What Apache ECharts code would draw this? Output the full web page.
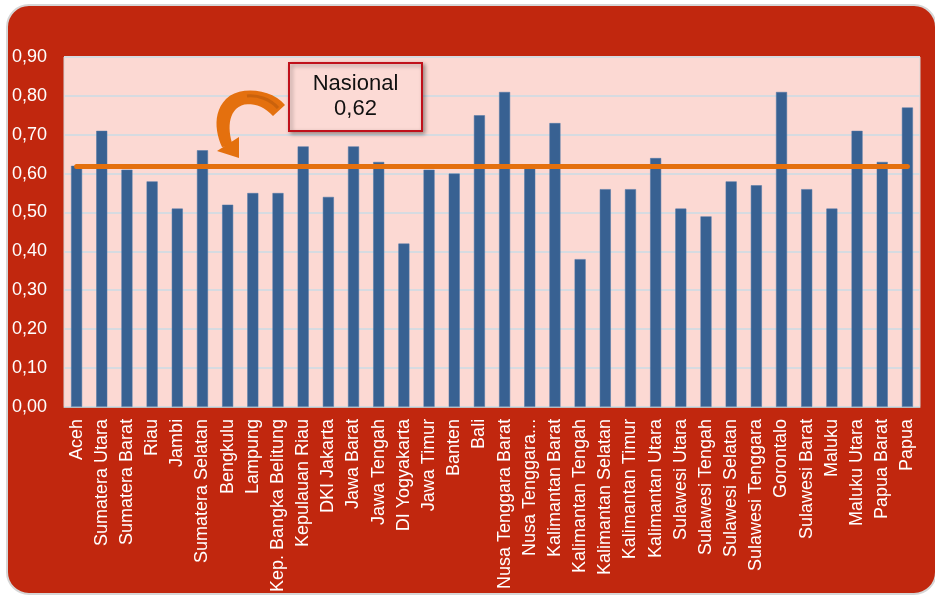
<!DOCTYPE html>
<html>
<head>
    <meta charset="utf-8">
    <title>Indeks per provinsi</title>
    <script src="https://cdn.jsdelivr.net/npm/echarts@6/dist/echarts.min.js"></script>
    <style>
        html, body { margin: 0; padding: 0; background: #ffffff; }
        #main { width: 935px; height: 595px; }
    </style>
</head>
<body>
<div id="main"></div>
<script>
    const provinsi = ['Aceh', 'Sumatera Utara', 'Sumatera Barat', 'Riau', 'Jambi', 'Sumatera Selatan',
        'Bengkulu', 'Lampung', 'Kep. Bangka Belitung', 'Kepulauan Riau', 'DKI Jakarta', 'Jawa Barat',
        'Jawa Tengah', 'DI Yogyakarta', 'Jawa Timur', 'Banten', 'Bali', 'Nusa Tenggara Barat',
        'Nusa Tenggara Timur', 'Kalimantan Barat', 'Kalimantan Tengah', 'Kalimantan Selatan',
        'Kalimantan Timur', 'Kalimantan Utara', 'Sulawesi Utara', 'Sulawesi Tengah', 'Sulawesi Selatan',
        'Sulawesi Tenggara', 'Gorontalo', 'Sulawesi Barat', 'Maluku', 'Maluku Utara', 'Papua Barat', 'Papua'];
    const nilai = [0.62, 0.71, 0.61, 0.58, 0.51, 0.66,
        0.52, 0.55, 0.55, 0.67, 0.54, 0.67,
        0.63, 0.42, 0.61, 0.60, 0.75, 0.81,
        0.62, 0.73, 0.38, 0.56,
        0.56, 0.64, 0.51, 0.49, 0.58,
        0.57, 0.81, 0.56, 0.51, 0.71, 0.63, 0.77];
    const nasional = 0.62;
    const yTicks = {min: 0, max: 0.9, step: 0.1};

    // titik-titik kurva bezier untuk bentuk panah
    function bez(p0, p1, p2, p3, n) {
        let pts = [];
        for (let i = 0; i <= n; i++) {
            let t = i / n, u = 1 - t;
            pts.push([
                u * u * u * p0[0] + 3 * u * u * t * p1[0] + 3 * u * t * t * p2[0] + t * t * t * p3[0],
                u * u * u * p0[1] + 3 * u * u * t * p1[1] + 3 * u * t * t * p2[1] + t * t * t * p3[1]
            ]);
        }
        return pts;
    }
    let arrowPts = [].concat(
        bez([285, 105], [272, 89], [240, 85], [226, 99], 12),
        bez([226, 99], [213, 112], [215, 132], [222, 147], 12),
        bez([233, 146], [228, 132], [228, 117], [236, 109], 12),
        bez([236, 109], [246, 100], [262, 104], [273, 116], 12)
    );

    var myChart = echarts.init(document.getElementById('main'));
    myChart.setOption({
        backgroundColor: '#ffffff',
        animation: false,
        textStyle: {fontFamily: 'Liberation Sans, Arial, sans-serif'},
        graphic: [
            {
                type: 'rect', z: -10, silent: true,
                shape: {x: 7, y: 5, width: 929, height: 589, r: 22},
                style: {fill: '#C1270E', stroke: '#d6d6d6', lineWidth: 2}
            },
            // panah melengkung
            {
                type: 'polygon', z: 100, silent: true,
                shape: {points: arrowPts},
                style: {fill: '#E4700E'}
            },
            {
                type: 'polygon', z: 100, silent: true,
                shape: {points: [[217, 151], [239, 158], [239, 137]]},
                style: {fill: '#E4700E'}
            },
            {
                type: 'bezierCurve', z: 101, silent: true,
                shape: {x1: 278, y1: 108, cpx1: 270, cpy1: 99, cpx2: 258, cpy2: 95, x2: 247, y2: 96},
                style: {stroke: '#B9580B', lineWidth: 3, fill: null, opacity: 0.6}
            },
            // kotak keterangan
            {
                type: 'rect', z: 100, silent: true,
                shape: {x: 289, y: 63, width: 133, height: 68},
                style: {
                    fill: '#FCDAD5', stroke: '#C0101A', lineWidth: 2,
                    shadowBlur: 4, shadowOffsetX: 2, shadowOffsetY: 2, shadowColor: 'rgba(0,0,0,0.35)'
                }
            },
            {
                type: 'text', z: 101, silent: true,
                x: 355.5, y: 96,
                style: {
                    text: 'Nasional\n' + nasional.toFixed(2).replace('.', ','),
                    align: 'center', verticalAlign: 'middle',
                    fill: '#111111', font: '22px Liberation Sans, Arial, sans-serif', lineHeight: 25
                }
            }
        ],
        grid: {
            left: 64, right: 15, top: 57, bottom: 187,
            show: true, backgroundColor: '#FCD9D3', borderColor: '#d4d4d4', borderWidth: 1
        },
        xAxis: {
            type: 'category',
            data: provinsi,
            axisLine: {lineStyle: {color: '#bfbfbf', width: 1}},
            axisTick: {show: false},
            axisLabel: {
                rotate: 90, interval: 0, margin: 12,
                color: '#ffffff', fontSize: 18,
                formatter: function (v) {
                    return v === 'Nusa Tenggara Timur' ? 'Nusa Tenggara...' : v;
                }
            }
        },
        yAxis: {
            type: 'value',
            min: yTicks.min, max: yTicks.max, interval: yTicks.step,
            axisLine: {show: false},
            axisTick: {show: false},
            splitLine: {lineStyle: {color: '#D6DBE1', width: 2}},
            axisLabel: {
                color: '#ffffff', fontSize: 18, margin: 17,
                formatter: function (v) { return v.toFixed(2).replace('.', ','); }
            }
        },
        series: [
            {
                name: 'Nilai',
                type: 'bar',
                data: nilai,
                barWidth: 11,
                itemStyle: {color: '#386192', borderColor: '#4d76a6', borderWidth: 0.5},
                markLine: {
                    silent: true,
                    symbol: ['none', 'none'],
                    label: {show: false},
                    lineStyle: {color: '#E4700E', width: 5, type: 'solid', cap: 'round'},
                    data: [[
                        {coord: [provinsi[0], nasional]},
                        {coord: [provinsi[provinsi.length - 1], nasional]}
                    ]]
                }
            }
        ]
    });
</script>
</body>
</html>
